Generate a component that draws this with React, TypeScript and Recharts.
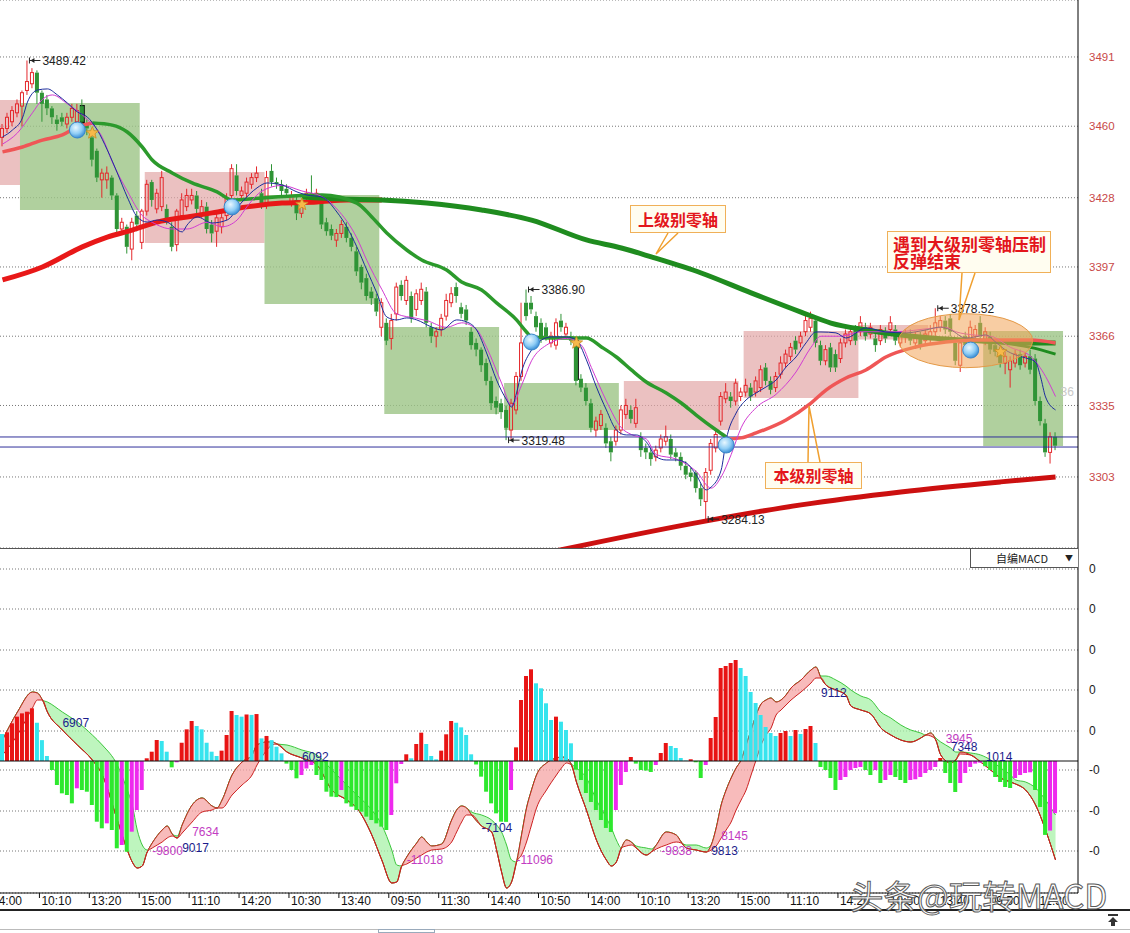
import React from 'react';
import {
  ComposedChart, Bar, Line, Area, XAxis, YAxis, CartesianGrid,
  ReferenceArea, ReferenceDot, ReferenceLine, Cell,
} from 'recharts';

const SLOTS = 216;

// 10-minute bars: open, high, low, close
const candles: [number, number, number, number][] = [
  [3455,3461,3451,3459],[3459,3466,3457,3464],[3462,3469,3460,3467],[3466,3472,3464,3470],[3469,3476,3460,3475],[3476,3489.42,3474,3480],
  [3479,3486,3477,3484],[3484,3485,3470,3475],[3475,3476,3462,3470],[3472,3474,3465,3468],[3468,3469,3461,3464],[3463,3465,3458,3461],
  [3464,3466,3460,3462],[3461,3466,3459,3464],[3464,3470,3462,3468],[3462,3470,3459,3467],[3469,3472,3458,3462],[3461,3463,3456,3459],
  [3455,3457,3442,3445],[3449,3450,3435,3437],[3436,3441,3428,3439],[3436,3442,3432,3439],[3437,3438,3427,3429],[3429,3430,3411,3414],
  [3414,3419,3412,3417],[3415,3416,3403,3406],[3405,3419,3400,3417],[3420,3422,3413,3416],[3408,3423,3405,3422],[3422,3436,3420,3434],
  [3435,3436,3424,3427],[3423,3432,3421,3430],[3424,3440,3422,3437],[3423,3425,3416,3418],[3415,3417,3404,3406],[3407,3423,3404,3422],
  [3420,3430,3418,3427],[3424,3432,3422,3429],[3427,3432,3425,3429],[3429,3431,3420,3423],[3421,3427,3419,3424],[3424,3426,3412,3414],
  [3416,3418,3408,3412],[3413,3421,3406,3419],[3415,3422,3412,3419],[3420,3430,3418,3428],[3429,3443,3427,3441],[3438,3443,3429,3431],
  [3429,3433,3427,3431],[3430,3437,3428,3435],[3434,3439,3432,3437],[3437,3442,3435,3439],[3430,3432,3423,3425],[3425,3440,3423,3437],
  [3440,3443,3433,3435],[3435,3437,3432,3434],[3434,3436,3429,3431],[3432,3434,3428,3430],[3426,3431,3424,3429],[3427,3429,3418,3421],
  [3421,3426,3419,3424],[3428,3432,3426,3430],[3430,3438,3426,3428],[3428,3432,3427,3430],[3426,3428,3414,3416],[3417,3419,3411,3413],
  [3414,3416,3409,3411],[3409,3414,3406,3412],[3412,3418,3410,3416],[3415,3417,3408,3410],[3410,3412,3404,3406],[3404,3406,3393,3395],
  [3397,3398,3387,3390],[3392,3394,3382,3384],[3386,3388,3380,3383],[3383,3385,3375,3377],[3370,3383,3366,3381],[3372,3374,3362,3364],
  [3365,3376,3360,3373],[3376,3390,3373,3388],[3389,3391,3382,3384],[3382,3393,3380,3391],[3384,3386,3372,3374],[3378,3387,3375,3385],
  [3382,3390,3380,3387],[3386,3388,3370,3372],[3370,3372,3363,3366],[3366,3370,3361,3368],[3369,3376,3366,3374],[3375,3385,3373,3382],
  [3381,3388,3379,3385],[3388,3390,3381,3384],[3379,3381,3374,3376],[3378,3380,3371,3373],[3368,3370,3360,3362],[3363,3365,3357,3360],
  [3360,3361,3350,3353],[3354,3356,3344,3346],[3346,3348,3333,3336],[3337,3339,3331,3334],[3336,3338,3329,3332],[3333,3335,3319.48,3325],
  [3324,3338,3320,3336],[3333,3350,3331,3348],[3348,3381,3346,3363],[3381,3386.9,3373,3375],[3381,3384,3376,3378],[3375,3377,3368,3370],
  [3372,3374,3363,3365],[3370,3372,3364,3366],[3363,3368,3361,3366],[3362,3374,3360,3372],[3373,3376,3368,3370],[3367,3372,3365,3370],
  [3366,3368,3362,3364],[3364,3365,3344,3346],[3347,3349,3341,3343],[3343,3345,3335,3337],[3336,3338,3323,3325],[3324,3330,3321,3328],
  [3326,3333,3324,3331],[3325,3327,3316,3318],[3319,3321,3310,3314],[3319,3326,3317,3324],[3324,3335,3322,3333],[3331,3338,3329,3335],
  [3333,3335,3327,3329],[3327,3338,3325,3334],[3321,3323,3312,3315],[3316,3318,3311,3314],[3314,3316,3308,3311],[3312,3317,3310,3315],
  [3316,3322,3314,3320],[3319,3326,3317,3321],[3320,3322,3311,3313],[3314,3316,3310,3312],[3312,3314,3306,3308],[3308,3310,3302,3304],
  [3305,3307,3301,3303],[3305,3306,3296,3298],[3298,3300,3290,3293],[3292,3307,3284.13,3305],[3306,3320,3304,3318],[3316,3324,3314,3322],
  [3328,3341,3326,3339],[3338,3345,3336,3341],[3339,3341,3334,3337],[3337,3347,3335,3345],[3339,3343,3337,3341],[3341,3347,3339,3344],
  [3343,3345,3337,3339],[3341,3348,3339,3346],[3343,3353,3341,3351],[3352,3354,3344,3346],[3346,3348,3340,3342],[3343,3350,3341,3348],
  [3349,3357,3347,3354],[3354,3360,3352,3358],[3357,3363,3355,3361],[3364,3366,3358,3360],[3363,3368,3361,3366],[3368,3376,3366,3373],
  [3370,3377,3368,3374],[3373,3375,3361,3363],[3362,3364,3353,3355],[3355,3362,3353,3360],[3361,3363,3350,3352],[3358,3360,3350,3352],
  [3356,3365,3354,3363],[3363,3369,3361,3367],[3364,3370,3362,3368],[3369,3371,3362,3364],[3368,3375,3366,3372],[3370,3372,3364,3366],
  [3367,3372,3365,3370],[3365,3367,3359,3362],[3364,3371,3362,3369],[3368,3370,3363,3365],[3369,3375,3367,3372],[3369,3371,3362,3364],
  [3363,3368,3361,3366],[3366,3369,3363,3367],[3367,3369,3362,3364],[3363,3368,3361,3366],[3366,3368,3360,3362],[3364,3369,3362,3367],
  [3365,3371,3363,3368],[3368,3378.52,3366,3372],[3370,3375,3368,3373],[3373,3375,3367,3369],[3374,3376,3366,3368],[3363,3365,3353,3355],
  [3353,3365,3350,3363],[3366,3368,3360,3362],[3364,3373,3362,3370],[3366,3371,3364,3369],[3372,3375,3364,3366],[3364,3370,3362,3368],
  [3366,3368,3358,3360],[3362,3364,3357,3359],[3359,3361,3352,3354],[3354,3359,3349,3357],[3351,3357,3343,3355],[3354,3360,3352,3358],
  [3358,3360,3351,3353],[3354,3359,3352,3357],[3357,3360,3349,3351],[3356,3358,3335,3337],[3337,3339,3326,3328],[3327,3329,3312,3314],
  [3314,3323,3309,3321],[3321,3323,3315,3317],
];

// MACD histogram, one value per bar
const macdHist: number[] = [
  3100,3300,4330,5100,5480,5670,6060,4400,2400,575,
  -1035,-2760,-3720,-3910,-4870,-3140,-3335,-3530,-5060,-6980,
  -7740,-7170,-7935,-10040,-9660,-10430,-8130,-5635,-3335,310,
  1070,2415,2300,1070,-730,-150,2100,3640,4600,4025,
  3640,2100,1070,575,1190,2990,5750,5290,5100,5350,
  5300,5400,2600,2880,2400,1640,880,-300,-1035,-1990,
  -1610,-860,-460,-1610,-2185,-3530,-4100,-4150,-3335,-4870,
  -5250,-5635,-5830,-6400,-6785,-7170,-7550,-7935,-6210,-2565,
  -345,770,310,1955,3260,1955,575,195,1190,3070,
  4600,4400,3870,2990,770,-400,-1800,-3530,-4870,-6020,
  -6980,-7000,-3335,1570,7015,9775,10545,8935,8360,6635,
  4715,5100,4520,3565,2035,-1000,-2185,-3680,-4715,-5635,
  -6785,-7700,-8165,-5635,-2760,-1265,460,-300,-1035,-1100,
  -1265,-460,920,2070,1725,1495,345,50,200,-150,
  -1955,-460,2645,5060,10695,10925,11270,11615,10695,9775,
  7935,6670,5290,3910,3220,2875,3220,3450,2875,3565,
  3105,3680,4025,2070,-690,-1035,-1955,-3335,-2185,-1840,
  -1035,-805,-690,-1035,-1610,-1035,-2530,-2185,-1610,-1840,
  -2185,-2530,-2185,-2100,-1840,-1380,-1035,-690,345,-1380,
  -2530,-3565,-2530,-1380,-690,-300,-200,-600,-1035,-1840,
  -2415,-2990,-3105,-1955,-1610,-1380,-1300,-3335,-5290,-8500,
  -8000,-6000,
];

// [bar, DIF, DEA] read at sample bars
const difDea: [number, number, number][] = [
  [0,2415,690],[3,5635,2990],[6,7935,6095],[7,7820,7015],[8,7015,7015],[9,5635,6785],[12,3565,5635],[15,1840,4485],
  [18,115,2990],[20,-1610,1840],[23,-6785,-460],[25,-10235,-3335],[26,-11615,-5060],[27,-12305,-7935],[28,-12075,-9660],
  [29,-10465,-10235],[30,-9430,-10005],[32,-7935,-9315],[33,-7475,-8855],[34,-8395,-8625],[35,-8855,-8625],[36,-7360,-8280],
  [38,-5060,-7015],[40,-4255,-5865],[42,-5175,-5635],[43,-5405,-5405],[44,-4485,-5405],[46,-1610,-3910],[48,-115,-2760],
  [50,690,-1610],[51,1840,-460],[53,2185,1265],[54,2185,1840],[55,1955,1955],[57,1035,1840],[60,345,1265],[63,-460,690],
  [66,-3335,-1035],[69,-4485,-2760],[71,-5405,-3910],[74,-8510,-5635],[76,-11385,-7360],[78,-14030,-10235],[79,-13915,-11960],
  [80,-12075,-12075],[81,-11040,-11845],[83,-9430,-11155],[84,-8740,-10810],[85,-9315,-10465],[86,-9775,-10235],[88,-9545,-10120],
  [90,-6785,-9315],[91,-5635,-8165],[92,-5175,-7015],[93,-5405,-6210],[94,-6210,-5865],[96,-7475,-6210],[98,-8165,-6785],
  [99,-10235,-7360],[100,-12765,-8165],[101,-14605,-9660],[102,-13915,-11385],[103,-11615,-11615],[104,-8510,-10810],
  [105,-5405,-9315],[106,-3335,-7360],[107,-1610,-5405],[109,-230,-3335],[111,345,-1610],[112,460,-805],[113,345,-230],
  [114,-460,-345],[115,-2415,-805],[117,-5635,-1955],[119,-9085,-4485],[121,-11385,-6555],[122,-12075,-7705],[123,-11615,-9085],
  [124,-10005,-10005],[125,-9085,-9775],[126,-9315,-9660],[127,-10005,-9775],[129,-10810,-10005],[130,-10465,-10120],
  [131,-9660,-10120],[133,-8165,-9660],[135,-8510,-9315],[136,-9315,-9430],[137,-10005,-9660],[139,-10235,-9660],
  [141,-10465,-10005],[142,-9660,-10235],[143,-7705,-9775],[144,-5060,-8855],[145,-3335,-7935],[146,-1955,-7015],
  [147,-805,-5635],[148,115,-4485],[149,1840,-3335],[150,3565,-1610],[151,5290,115],[152,6555,1840],[153,7015,2990],
  [154,7245,3795],[155,6785,5290],[156,7015,5865],[157,7590,6440],[158,8395,7015],[160,9315,7935],[162,10465,8970],
  [163,10810,9545],[164,9545,9775],[165,8740,9775],[167,8165,9315],[169,7590,8625],[170,6325,8165],[172,5865,7475],
  [174,5405,7015],[176,3795,5635],[178,2990,4945],[180,2415,4140],[182,2185,3565],[184,2645,3220],[185,2990,2990],
  [186,3220,2875],[187,2415,2645],[188,690,2185],[190,-230,1495],[191,115,1035],[192,1035,805],[194,690,920],
  [196,-115,690],[198,-1035,115],[200,-1955,-805],[202,-2415,-1610],[203,-2645,-2185],[205,-3335,-2415],
  [207,-5060,-3105],[209,-7935,-4485],[211,-11385,-6210],
];

// moving averages, read at sample bars: [bar, price]
const fastLine: [number, number][] = [
  [0,3455.2],[2,3458.3],[4,3463.7],[5,3470.8],[7,3476.2],[9,3476.7],[11,3474],[13,3470.4],[15,3466.4],[17,3464.1],
  [19,3458.3],[21,3449.4],[23,3439.1],[25,3428.3],[27,3419.4],[29,3417.1],[31,3418],[33,3417.1],[36,3412.7],[37,3415.8],
  [39,3419.4],[42,3416.7],[45,3418],[48,3426.1],[51,3432.4],[53,3434.6],[56,3433.7],[59,3430.6],[61,3429.2],[64,3428.3],
  [67,3421.6],[69,3414.9],[71,3406],[73,3395.6],[75,3385.4],[77,3374.6],[79,3373.3],[81,3374.2],[83,3373.3],[86,3370.1],
  [88,3368.8],[91,3373.3],[93,3372.4],[95,3368.8],[97,3358.5],[99,3346.4],[101,3337.5],[102,3334.3],[103,3340.6],[104,3350],
  [106,3359.8],[108,3364.3],[110,3365.7],[113,3365.7],[115,3364.3],[117,3355.4],[119,3343.3],[121,3333],[123,3324],
  [125,3321.8],[127,3321.8],[129,3318.7],[131,3312],[133,3310.6],[135,3310.6],[137,3309.3],[139,3303.9],[141,3297.2],
  [142,3298.5],[144,3306.1],[145,3319.5],[147,3331.6],[149,3337.5],[151,3340.6],[153,3343.3],[155,3346.4],[157,3352.2],
  [159,3356.7],[161,3363],[163,3367.9],[164,3367.9],[167,3367.5],[169,3365.2],[173,3369.7],[177,3367.9],[181,3367.5],
  [185,3368.8],[188,3370.1],[190,3368.8],[193,3365.2],[195,3365.7],[197,3366.6],[199,3363.4],[201,3359.8],[203,3357.6],
  [205,3356.3],[207,3354.5],[208,3347.8],[209,3338.8],[211,3333],
];
const slowLine: [number, number][] = [
  [0,3452],[3,3457],[6,3466],[8,3472],[10,3474],[13,3470],[17,3463],[20,3455],[22,3444],[25,3431],[28,3420],[30,3417],
  [34,3414],[37,3414],[41,3417],[44,3415],[47,3418],[49,3424],[52,3431],[56,3433.5],[60,3431],[64,3428.5],[67,3423],
  [71,3410],[73,3400],[76,3387],[79,3376],[83,3374],[85,3373],[89,3370],[92,3372],[95,3369],[97,3361],[100,3345],
  [102,3335],[104,3344],[106,3355],[109,3362],[113,3365],[116,3362],[118,3352],[121,3337],[124,3325],[126,3322],
  [129,3320],[131,3313],[135,3311],[139,3305.5],[142,3298],[144,3303],[146,3313],[148,3325],[151,3334],[155,3340],
  [159,3350],[162,3361],[164,3366],[168,3366],[172,3368],[179,3368],[186,3369.5],[189,3370],[191,3368],[195,3366.5],
  [198,3366],[202,3361],[206,3357],[209,3348],[211,3339],
];
const lowerAxisRise1: [number, number][] = [[0,3448.5],[4,3450.7],[8,3453.8],[12,3456.1],[15,3459.7],[18,3461.4]];
const lowerAxisFall: [number, number][] = [
  [18,3461.4],[22,3460.5],[25,3457.4],[28,3450.7],[30,3444.9],[34,3439.1],[38,3434.6],[43,3430.6],[46,3427],[52,3427.9],
  [58,3428.8],[64,3429.2],[71,3425.6],[74,3419.4],[77,3412.2],[81,3404.6],[84,3400.1],[89,3395.6],[92,3390.3],[96,3386.7],
  [99,3380.9],[103,3373.3],[105,3367.9],[106,3365.7],[110,3365.2],[114,3365.2],[117,3365.2],[120,3361.2],[123,3356.7],
  [126,3350.9],[129,3345.5],[133,3340.6],[136,3336.1],[139,3330.7],[143,3324],[145,3320.9],
];
const lowerAxisRise2: [number, number][] = [
  [145,3320],[148,3320.5],[151,3322.7],[157,3328.5],[162,3336.1],[165,3341.9],[169,3347.3],[173,3350.9],[177,3356.7],
  [183,3361.2],[189,3363.4],[195,3364.3],[200,3364.3],[206,3364.3],[211,3363],
];
const upperAxisRise: [number, number][] = [
  [0,3391.2],[8,3397],[16,3406],[21,3410.4],[26,3413.5],[31,3417.1],[37,3419.4],[42,3421.2],[49,3423.9],[56,3425.6],
  [63,3426.1],[69,3427],[76,3427],
];
const upperAxisFall: [number, number][] = [
  [60,3428.3],[68,3427.4],[76,3427],[85,3425.6],[96,3422.5],[106,3418],[117,3409.1],[124,3405.5],[130,3401.5],[140,3394.3],
  [150,3385.4],[160,3376.8],[166,3371.9],[173,3368.8],[180,3366.5],[186,3365.2],[193,3364.3],[200,3363.4],[206,3363],[211,3363],
];
const upperAxisBranch: [number, number][] = [[200,3363.2],[206,3361],[211,3358]];
const longTrend: [number, number][] = [[110,3269.5],[140,3282.9],[160,3290.5],[180,3296.3],[200,3300.8],[211,3303]];

const zones = [
  { from: 0, to: 3, top: 3471.7, bottom: 3433.7, tone: 'up' },
  { from: 4, to: 27, top: 3470.4, bottom: 3422.5, tone: 'down' },
  { from: 29, to: 52, top: 3439.5, bottom: 3407.7, tone: 'up' },
  { from: 53, to: 75, top: 3429.2, bottom: 3380.4, tone: 'down' },
  { from: 77, to: 99, top: 3370.1, bottom: 3331.2, tone: 'down' },
  { from: 101, to: 123, top: 3345.1, bottom: 3324, tone: 'down' },
  { from: 125, to: 147, top: 3346, bottom: 3324, tone: 'up' },
  { from: 149, to: 171, top: 3368.3, bottom: 3338.4, tone: 'up' },
  { from: 172, to: 185, top: 3371, bottom: 3364.5, tone: 'up' },
  { from: 197, to: 212, top: 3368.3, bottom: 3316.9, tone: 'down' },
];
const signals: [number, number][] = [[15,3458.3],[46,3423.9],[106,3363.4],[145,3317.3],[194,3359.8]];
const stars: [number, number][] = [[18,3457],[60,3425],[115,3363],[200,3359]];
const blackMarks: [number, number, number][] = [[16,3460.6,3469.5],[115,3346.4,3364.3]];
const extremes: [number, number][] = [[5,3489.42],[105,3386.9],[101,3319.48],[141,3284.13],[187,3378.52]];
const guideLevels = [3320.9, 3316.4];
const priceTicks = [3303, 3335, 3366, 3397, 3428, 3460, 3491];
const macdTicks = [22080, 17480, 12765, 8165, 3450, -1035, -5750, -10350];
const timeLabels = ['14:00','10:10','13:20','15:00','11:10','14:20','10:30','13:40','09:50','11:30','14:40',
  '10:50','14:00','10:10','13:20','15:00','11:10','14:20','10:30','13:40','09:50','11:30'];
const timeSlots = [0,7,17,27,37,47,57,67,77,87,97,107,117,127,137,147,157,167,177,187,197,207];
const macdNotes: [number, number, string, string][] = [
  [12,4370,'6907','#1c1c8c'],[60,460,'6092','#1c1c8c'],[30,-10350,'-9800','#c23cc2'],[36,-9980,'9017','#1c1c8c'],
  [38,-8165,'7634','#c23cc2'],[81,-11385,'-11018','#c23cc2'],[96,-7705,'-7104','#1c1c8c'],[103,-11385,'-11096','#c23cc2'],
  [132,-10350,'-9838','#c23cc2'],[142,-10350,'9813','#1c1c8c'],[144,-8625,'8145','#c23cc2'],[164,7820,'9112','#1c1c8c'],
  [189,2530,'3945','#c23cc2'],[190,1610,'7348','#1c1c8c'],[197,460,'1014','#1c1c8c'],
];

const rows: any[] = Array.from({ length: SLOTS }, (_, i) => ({ i }));
candles.forEach(([o, h, l, c], i) => Object.assign(rows[i], { o, h, l, c, hl: [l, h] }));
macdHist.forEach((v, i) => { rows[i].hist = v; });
const lineSets: [string, [number, number][]][] = [
  ['fast', fastLine], ['slow', slowLine], ['lr1', lowerAxisRise1], ['lf', lowerAxisFall], ['lr2', lowerAxisRise2],
  ['ur', upperAxisRise], ['uf', upperAxisFall], ['ub', upperAxisBranch], ['lt', longTrend],
];
lineSets.forEach(([key, pts]) => pts.forEach(([i, v]) => { rows[i][key] = v; }));
difDea.forEach(([i, dif, dea]) => Object.assign(rows[i], {
  dif, dea,
  bandUp: dif >= dea ? [dea, dif] : [dif, dif],
  bandDown: dif < dea ? [dif, dea] : [dif, dif],
}));

const histColor = (i: number) => {
  const v = macdHist[i];
  if (v == null) return 'none';
  const prev = i > 0 ? macdHist[i - 1] : Infinity;
  if (v >= 0) return v >= prev ? '#e81414' : '#36e4ee';
  return v <= prev ? '#2ee82e' : '#ee2aee';
};

const Candle = (props: any) => {
  const { x, y, width, height, payload } = props;
  if (!payload || payload.o == null || height == null) return null;
  const { o, h, l, c } = payload;
  const k = h > l ? height / (h - l) : 0;
  const mid = x + width / 2;
  const yTop = y + (h - Math.max(o, c)) * k;
  const yBot = y + (h - Math.min(o, c)) * k;
  const rising = c >= o;
  const col = rising ? '#e4282c' : '#2f9436';
  return (
    <g>
      <line x1={mid} x2={mid} y1={y} y2={yTop} stroke={col} />
      <line x1={mid} x2={mid} y1={yBot} y2={y + height} stroke={col} />
      {rising
        ? <rect x={x + 0.5} y={yTop} width={width - 1} height={Math.max(yBot - yTop, 1)} fill="none" stroke={col} />
        : <rect x={x} y={yTop} width={width} height={Math.max(yBot - yTop, 1)} fill={col} />}
    </g>
  );
};

const extremeShape = (text: string) => (p: any) => (
  <g>
    <line x1={p.cx + 2} x2={p.cx + 2} y1={p.cy - 3} y2={p.cy + 3} stroke="#222" />
    <line x1={p.cx + 2} x2={p.cx + 13} y1={p.cy} y2={p.cy} stroke="#222" />
    <path d={`M${p.cx + 3},${p.cy} l4,-2.5 v5 z`} fill="#222" />
    <text x={p.cx + 15} y={p.cy + 4.5} fontSize={12} fill="#222">{text}</text>
  </g>
);

const starShape = (p: any) => {
  const pts = [];
  for (let k = 0; k < 10; k++) {
    const r = k % 2 === 0 ? 6.5 : 2.8;
    const a = -Math.PI / 2 + (k * Math.PI) / 5;
    pts.push(`${p.cx + r * Math.cos(a)},${p.cy + r * Math.sin(a)}`);
  }
  return <polygon points={pts.join(' ')} fill="#f6b94a" stroke="#c98a20" strokeWidth={0.8} />;
};

const TimeTick = (p: any) => {
  const { x, y, payload } = p;
  const k = timeSlots.indexOf(payload.value);
  const first = k === 0;
  return (
    <g>
      {!first && <line x1={x + 2} x2={x + 2} y1={y - 5} y2={y} stroke="#111" />}
      <text x={first ? x - 10.5 : x + 4} y={y + 7} fontSize={12} fill="#111">{timeLabels[k]}</text>
    </g>
  );
};

const lineProps = { dot: false, activeDot: false, connectNulls: true, isAnimationActive: false, type: 'monotone' as const };

const box = (left: number, top: number, width: number, height: number): React.CSSProperties => ({
  position: 'absolute', left, top, width, height, boxSizing: 'border-box', border: '1px solid #f0b058',
  background: '#fffdf0', color: '#e3161b', fontWeight: 700, fontFamily: '"Noto Sans CJK SC", sans-serif',
});

export default function App() {
  return (
    <div style={{ position: 'absolute', left: 0, top: 0, width: 1130, height: 933, overflow: 'hidden', background: '#fff',
      fontFamily: '"Liberation Sans", Arial, sans-serif' }}>
      <div style={{ position: 'absolute', left: 0, top: 0 }}>
        <ComposedChart width={1130} height={548} data={rows} margin={{ top: 0, right: 0, bottom: 0, left: 0 }}>
          <defs>
            <radialGradient id="ball" cx="40%" cy="35%" r="65%">
              <stop offset="0%" stopColor="#e8f7ff" />
              <stop offset="60%" stopColor="#8fcdf5" />
              <stop offset="100%" stopColor="#3b8fd6" />
            </radialGradient>
          </defs>
          <CartesianGrid vertical={false} stroke="#777" strokeDasharray="1 2" />
          <XAxis dataKey="i" hide />
          <YAxis orientation="right" width={52} domain={[3271.2, 3516.5]} ticks={priceTicks} allowDataOverflow
            tickLine={false} tickMargin={5} axisLine={{ stroke: '#000' }} tick={{ fill: '#c84848', fontSize: 11.5 }} />
          {zones.map((z, k) => (
            <ReferenceArea key={`z${k}`} x1={z.from} x2={z.to} y1={z.bottom} y2={z.top} ifOverflow="hidden"
              fill={z.tone === 'up' ? '#e2a6a6' : '#9cc486'} fillOpacity={z.tone === 'up' ? 0.7 : 0.8} stroke="none" />
          ))}
          {guideLevels.map((g) => <ReferenceLine key={`g${g}`} y={g} stroke="#30309a" strokeWidth={1} />)}
          <Bar dataKey="hl" barSize={4} isAnimationActive={false} shape={(p: any) => <Candle {...p} />} />
          {blackMarks.map(([i, lo, hi]) => (
            <ReferenceArea key={`b${i}`} x1={i} x2={i} y1={lo} y2={hi} fill="#111" fillOpacity={1} stroke="none" />
          ))}
          <Line dataKey="ur" stroke="#e81818" strokeWidth={5} {...lineProps} />
          <Line dataKey="lt" stroke="#cc1010" strokeWidth={5} {...lineProps} />
          <Line dataKey="uf" stroke="#1f8c1f" strokeWidth={5} {...lineProps} />
          <Line dataKey="ub" stroke="#1f8c1f" strokeWidth={3} {...lineProps} />
          <Line dataKey="lr1" stroke="#ef5656" strokeWidth={3.5} {...lineProps} />
          <Line dataKey="lf" stroke="#2c9a2c" strokeWidth={3.5} {...lineProps} />
          <Line dataKey="lr2" stroke="#ef5656" strokeWidth={3.5} {...lineProps} />
          <Line dataKey="slow" stroke="#d23cd2" strokeWidth={1} {...lineProps} />
          <Line dataKey="fast" stroke="#1c2c9c" strokeWidth={1} {...lineProps} />
          <ReferenceDot x={193} y={3364} r={1} ifOverflow="visible"
            shape={(p: any) => <ellipse cx={p.cx} cy={p.cy} rx={67} ry={27} fill="#f3a458" fillOpacity={0.55} stroke="#e49a48" />} />
          {stars.map(([i, v]) => <ReferenceDot key={`s${i}`} x={i} y={v} r={1} shape={starShape} />)}
          {signals.map(([i, v]) => (
            <ReferenceDot key={`c${i}`} x={i} y={v} r={8}
              shape={(p: any) => <circle cx={p.cx} cy={p.cy} r={8} fill="url(#ball)" stroke="#3a86c8" />} />
          ))}
          {extremes.map(([i, v]) => (
            <ReferenceDot key={`e${i}`} x={i} y={v} r={1} ifOverflow="visible" shape={extremeShape(v.toFixed(2))} />
          ))}
          <ReferenceDot x={212} y={3341} r={1} ifOverflow="visible"
            shape={(p: any) => <text x={p.cx} y={p.cy + 4} fontSize={12} fill="#c8c8c8">36</text>} />
        </ComposedChart>
      </div>

      <div style={{ position: 'absolute', left: 0, top: 548 }}>
        <ComposedChart width={1130} height={362} data={rows} margin={{ top: 0, right: 0, bottom: 0, left: 0 }}>
          <CartesianGrid vertical={false} stroke="#777" strokeDasharray="1 2" />
          <XAxis dataKey="i" height={17} ticks={timeSlots} interval={0} tickLine={false} tickSize={5} tickMargin={0}
            axisLine={{ stroke: '#111' }} tick={<TimeTick />} />
          <YAxis orientation="right" width={52} domain={[-15180, 24495]} ticks={macdTicks} allowDataOverflow
            tickLine={false} tickMargin={5} axisLine={{ stroke: '#000' }} tick={{ fill: '#222', fontSize: 12 }}
            tickFormatter={(v: number) => (v / 1e6).toFixed(0)} />
          <Bar dataKey="hist" barSize={4} isAnimationActive={false}>
            {rows.map((r) => <Cell key={`h${r.i}`} fill={histColor(r.i)} />)}
          </Bar>
          <ReferenceLine y={0} stroke="#111" strokeWidth={1} />
          <Area dataKey="bandDown" fill="#a8f2a8" fillOpacity={0.75} stroke="#3cc63c" strokeWidth={1} {...lineProps} />
          <Area dataKey="bandUp" fill="#f5a4a4" fillOpacity={0.75} stroke="#cc2020" strokeWidth={1} {...lineProps} />
          {macdNotes.map(([i, v, text, color]) => (
            <ReferenceDot key={`n${i}${text}`} x={i} y={v} r={1} ifOverflow="visible"
              shape={(p: any) => <text x={p.cx} y={p.cy + 4} fontSize={12} fill={color}>{text}</text>} />
          ))}
        </ComposedChart>
      </div>

      <div style={{ position: 'absolute', left: 0, top: 548, width: 1078, height: 1, background: '#555' }} />
      <div style={{ position: 'absolute', left: 970, top: 549, width: 108, height: 19, boxSizing: 'border-box',
        borderLeft: '1px solid #555', borderBottom: '1px solid #555', background: '#fff', fontSize: 11,
        fontFamily: '"Noto Sans CJK SC", sans-serif', color: '#222', lineHeight: '18px' }}>
        <span style={{ position: 'absolute', left: 25 }}>自编MACD</span>
        <span style={{ position: 'absolute', left: 94, fontSize: 8 }}>▼</span>
      </div>

      <div style={{ ...box(630, 205, 96, 28), fontSize: 16, lineHeight: '26px', textAlign: 'center' }}>上级别零轴</div>
      <div style={{ ...box(887, 231, 164, 42), fontSize: 17, lineHeight: '17px', padding: '3px 0 0 5px' }}>
        遇到大级别零轴压制<br />反弹结束
      </div>
      <div style={{ ...box(765, 462, 97, 27), fontSize: 16, lineHeight: '25px', textAlign: 'center' }}>本级别零轴</div>
      <svg width={1130} height={933} style={{ position: 'absolute', left: 0, top: 0, pointerEvents: 'none' }}>
        <g stroke="#f0a030" strokeWidth={1.5} fill="none">
          <polyline points="668,233 656,254 678,233" />
          <polyline points="962,273 959,320 975,273" />
          <polyline points="808,462 809,406 820,462" />
        </g>
      </svg>

      <div style={{ position: 'absolute', left: 0, top: 909, width: 1130, height: 2, background: '#222' }} />
      <div style={{ position: 'absolute', left: 0, top: 929, width: 1130, height: 1, background: '#bbb' }} />
      <div style={{ position: 'absolute', left: 378, top: 929, width: 57, height: 4, border: '1px solid #9ab', boxSizing: 'border-box' }} />
      <svg width={14} height={14} style={{ position: 'absolute', left: 1106, top: 913 }}>
        <rect x={2} y={1} width={10} height={2} fill="#333" />
        <path d="M7,4 L12,9 L9,9 L9,13 L5,13 L5,9 L2,9 Z" fill="#333" />
      </svg>
      <div style={{ position: 'absolute', left: 850, top: 870, fontSize: 33.5, fontFamily: '"Noto Sans CJK SC", sans-serif',
        color: 'rgba(255,255,255,0.85)', WebkitTextStroke: '1px #5a5a5a', whiteSpace: 'nowrap', letterSpacing: 0 }}>
        头条@玩转MACD
      </div>
    </div>
  );
}
